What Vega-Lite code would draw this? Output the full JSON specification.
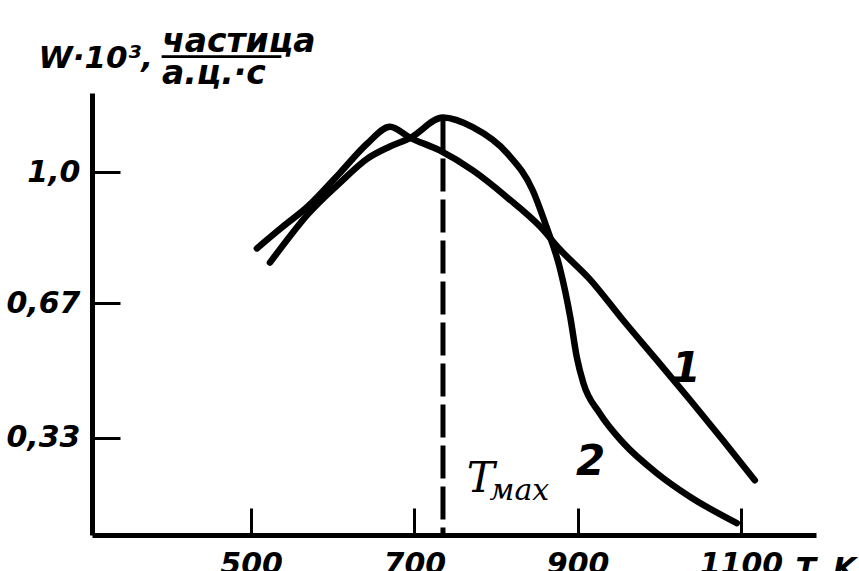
{
  "$schema": "https://vega.github.io/schema/vega-lite/v6.json",
  "width": 724,
  "height": 442,
  "autosize": {"type": "none"},
  "padding": {"left": 92, "top": 93, "right": 43, "bottom": 36},
  "background": "white",
  "config": {"view": {"stroke": null}, "font": "DejaVu Sans"},
  "title": {
    "text": ["частица", "──────", "а.ц.·с"],
    "anchor": "start",
    "frame": "group",
    "orient": "top",
    "dx": 70,
    "dy": 75,
    "offset": 0,
    "fontSize": 33,
    "font": "DejaVu Sans",
    "fontStyle": "italic",
    "fontWeight": "bold",
    "lineHeight": 16,
    "color": "black",
    "baseline": "alphabetic"
  },
  "datasets": {
    "curves": [
      {"curve": "1", "T": 507, "v": 0.808},
      {"curve": "1", "T": 539, "v": 0.863},
      {"curve": "1", "T": 569, "v": 0.913},
      {"curve": "1", "T": 609, "v": 0.999},
      {"curve": "1", "T": 642, "v": 1.072},
      {"curve": "1", "T": 670, "v": 1.115},
      {"curve": "1", "T": 695, "v": 1.087},
      {"curve": "1", "T": 731, "v": 1.055},
      {"curve": "1", "T": 772, "v": 1.004},
      {"curve": "1", "T": 814, "v": 0.936},
      {"curve": "1", "T": 854, "v": 0.863},
      {"curve": "1", "T": 878, "v": 0.806},
      {"curve": "1", "T": 915, "v": 0.730},
      {"curve": "1", "T": 956, "v": 0.626},
      {"curve": "1", "T": 997, "v": 0.526},
      {"curve": "1", "T": 1038, "v": 0.425},
      {"curve": "1", "T": 1078, "v": 0.324},
      {"curve": "1", "T": 1117, "v": 0.223},
      {"curve": "2", "T": 523, "v": 0.772},
      {"curve": "2", "T": 548, "v": 0.840},
      {"curve": "2", "T": 569, "v": 0.893},
      {"curve": "2", "T": 609, "v": 0.974},
      {"curve": "2", "T": 642, "v": 1.034},
      {"curve": "2", "T": 670, "v": 1.065},
      {"curve": "2", "T": 695, "v": 1.087},
      {"curve": "2", "T": 735, "v": 1.138},
      {"curve": "2", "T": 772, "v": 1.113},
      {"curve": "2", "T": 814, "v": 1.047},
      {"curve": "2", "T": 845, "v": 0.954},
      {"curve": "2", "T": 862, "v": 0.861},
      {"curve": "2", "T": 878, "v": 0.760},
      {"curve": "2", "T": 891, "v": 0.634},
      {"curve": "2", "T": 899, "v": 0.533},
      {"curve": "2", "T": 907, "v": 0.468},
      {"curve": "2", "T": 927, "v": 0.392},
      {"curve": "2", "T": 956, "v": 0.317},
      {"curve": "2", "T": 997, "v": 0.241},
      {"curve": "2", "T": 1038, "v": 0.181},
      {"curve": "2", "T": 1095, "v": 0.115}
    ],
    "tmax": [{"T": 735, "v": 1.138, "v0": 0.085}],
    "labels": [
      {"T": 1033, "v": 0.470, "t": "1"},
      {"T": 916, "v": 0.236, "t": "2"}
    ],
    "tlabel": [{"T": 764, "v": 0.193, "t": "Т"}],
    "sublabel": [{"T": 792, "v": 0.173, "t": "мах"}]
  },
  "layer": [
    {
      "data": {"name": "curves"},
      "mark": {"type": "line", "interpolate": "monotone", "strokeWidth": 6.5, "color": "black", "strokeCap": "round", "strokeJoin": "round"},
      "encoding": {
        "x": {
          "field": "T", "type": "quantitative",
          "scale": {"domain": [305, 1192], "nice": false, "zero": false},
          "axis": {
            "values": [500, 700, 900, 1100], "format": "d", "title": "T, K", "grid": false,
            "domainWidth": 5, "domainColor": "black", "tickSize": -27, "tickWidth": 3, "tickColor": "black",
            "labelFontSize": 30, "labelFont": "DejaVu Sans", "labelFontWeight": "bold", "labelFontStyle": "italic",
            "labelColor": "black", "labelPadding": 41, "labelBaseline": "top", "labelOverlap": false, "labelFlush": false,
            "titleX": 703, "titleY": 19, "titleAlign": "left", "titleBaseline": "top",
            "titleFontSize": 30, "titleFont": "DejaVu Sans", "titleFontWeight": "bold", "titleFontStyle": "italic", "titleColor": "black"
          }
        },
        "y": {
          "field": "v", "type": "quantitative",
          "scale": {"domain": [0.085, 1.2], "nice": false, "zero": false},
          "axis": {
            "values": [0.33, 0.67, 1.0],
            "labelExpr": "datum.value == 1 ? '1,0' : (datum.value == 0.67 ? '0,67' : '0,33')",
            "title": "W·10³,", "grid": false,
            "domainWidth": 5, "domainColor": "black", "tickSize": -28, "tickWidth": 3, "tickColor": "black",
            "labelFontSize": 30, "labelFont": "DejaVu Sans", "labelFontWeight": "bold", "labelFontStyle": "italic",
            "labelColor": "black", "labelPadding": 40, "labelOverlap": false, "labelFlush": false,
            "titleAngle": 0, "titleX": -54, "titleY": -26, "titleAlign": "left", "titleBaseline": "alphabetic",
            "titleFontSize": 31, "titleFont": "DejaVu Sans", "titleFontWeight": "bold", "titleFontStyle": "italic", "titleColor": "black"
          }
        },
        "detail": {"field": "curve", "type": "nominal"}
      }
    },
    {
      "data": {"name": "tmax"},
      "mark": {"type": "rule", "strokeDash": [33, 8], "strokeWidth": 5, "color": "black"},
      "encoding": {
        "x": {"field": "T", "type": "quantitative"},
        "y": {"field": "v", "type": "quantitative"},
        "y2": {"field": "v0"}
      }
    },
    {
      "data": {"name": "labels"},
      "mark": {"type": "text", "fontSize": 42, "font": "DejaVu Sans", "fontWeight": "bold", "fontStyle": "italic", "align": "center", "baseline": "alphabetic", "color": "black"},
      "encoding": {
        "x": {"field": "T", "type": "quantitative"},
        "y": {"field": "v", "type": "quantitative"},
        "text": {"field": "t"}
      }
    },
    {
      "data": {"name": "tlabel"},
      "mark": {"type": "text", "fontSize": 42, "font": "DejaVu Serif", "fontStyle": "italic", "align": "left", "baseline": "alphabetic", "color": "black"},
      "encoding": {
        "x": {"field": "T", "type": "quantitative"},
        "y": {"field": "v", "type": "quantitative"},
        "text": {"field": "t"}
      }
    },
    {
      "data": {"name": "sublabel"},
      "mark": {"type": "text", "fontSize": 30, "font": "DejaVu Serif", "fontStyle": "italic", "align": "left", "baseline": "alphabetic", "color": "black"},
      "encoding": {
        "x": {"field": "T", "type": "quantitative"},
        "y": {"field": "v", "type": "quantitative"},
        "text": {"field": "t"}
      }
    }
  ]
}
